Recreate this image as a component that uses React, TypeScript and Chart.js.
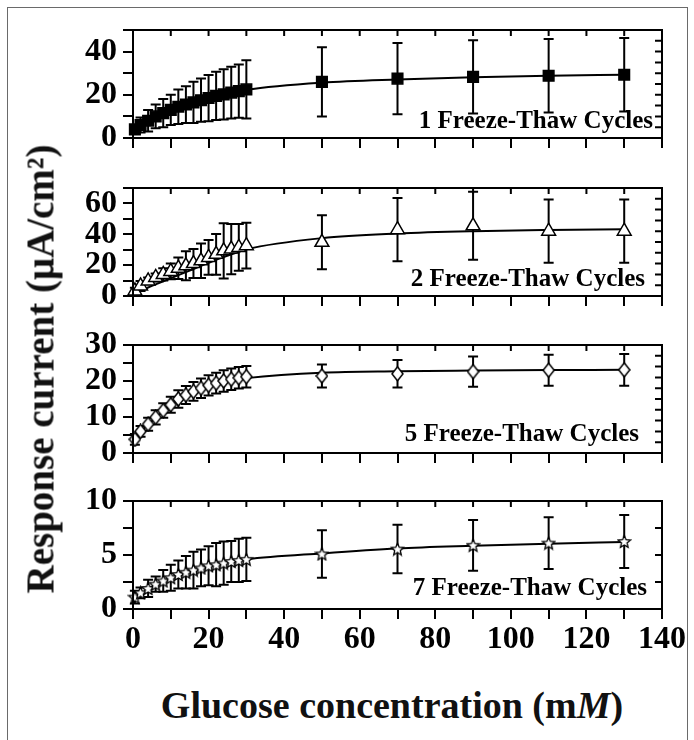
import React, { useEffect, useRef } from "react";
import { Chart, registerables } from "chart.js";

Chart.register(...registerables);

// ---------------- data ----------------
const concentration = [0.5, 2, 4, 6, 8, 10, 12, 14, 16, 18, 20, 22, 24, 26, 28, 30, 50, 70, 90, 110, 130];

const cycle1Mean = [4, 6, 8, 10, 11.5, 13, 14.5, 15.5, 16.5, 17.5, 18.5, 19.5, 20.2, 21, 21.7, 22.5, 26, 27.5, 28.3, 28.8, 29.3];
const cycle1Err = [2, 3.5, 5, 5.5, 6.5, 7, 8, 8.5, 9.5, 10, 10.7, 11.2, 11.6, 12, 12.3, 13.5, 16, 16.5, 17, 17, 17];
const cycle1Fit = [4, 6, 8, 10, 11.5, 13, 14.4, 15.5, 16.5, 17.5, 18.4, 19.3, 20.1, 20.9, 21.6, 22.3, 25.6, 27.1, 28.1, 28.8, 29.3];

const cycle2Mean = [3.3, 6.5, 9.8, 12, 14, 15.9, 18, 19.6, 21, 22.8, 25, 27, 29.3, 30.4, 31.5, 32.6, 34.8, 43, 45.5, 42, 42];
const cycle2Err = [2, 3.3, 2.2, 2.6, 4, 5.1, 7, 9.4, 9.4, 11.2, 11.3, 13.2, 17.9, 16.3, 15.2, 14.8, 17.5, 20.5, 22, 20.5, 20.5];
const cycle2Fit = [1.5, 3, 5.5, 7.5, 9.5, 11.5, 13.5, 15.5, 17.5, 19.5, 21.5, 23.4, 25.3, 27, 28.7, 30.3, 37.5, 40.5, 42, 42.8, 43.3];

const cycle5Mean = [3.8, 6, 8, 9.9, 11.8, 13.4, 15, 16.1, 17.1, 18, 18.8, 19.4, 20, 20.5, 20.9, 21.2, 21.4, 22, 22.6, 23, 23.1];
const cycle5Err = [1.5, 1.5, 1.8, 2, 2, 2.2, 2.4, 2.5, 2.6, 2.7, 2.8, 2.9, 3, 3, 3, 3, 3.2, 3.8, 4.2, 4.3, 4.4];
const cycle5Fit = [3.5, 5.8, 7.9, 9.8, 11.6, 13.2, 14.6, 15.8, 16.8, 17.7, 18.5, 19.1, 19.6, 20.1, 20.5, 20.8, 22.3, 22.7, 22.9, 23.05, 23.1];

const cycle7Mean = [1.1, 1.5, 1.9, 2.3, 2.6, 2.9, 3.2, 3.4, 3.6, 3.8, 4.0, 4.1, 4.25, 4.4, 4.5, 4.6, 5.1, 5.55, 5.9, 6.1, 6.25];
const cycle7Err = [0.6, 0.5, 0.8, 0.7, 1.0, 1.2, 1.3, 1.5, 1.7, 1.7, 1.8, 2.0, 2.0, 1.9, 2.0, 2.0, 2.2, 2.25, 2.35, 2.4, 2.45];
const cycle7Fit = [1.0, 1.4, 1.85, 2.25, 2.6, 2.9, 3.15, 3.4, 3.6, 3.8, 3.95, 4.1, 4.25, 4.38, 4.5, 4.6, 5.15, 5.6, 5.85, 6.05, 6.2];

const panelLabels = ["1 Freeze-Thaw Cycles", "2 Freeze-Thaw Cycles", "5 Freeze-Thaw Cycles", "7 Freeze-Thaw Cycles"];

const xTickLabels = [0, 20, 40, 60, 80, 100, 120, 140];
const y1TickLabels = [0, 20, 40];
const y2TickLabels = [0, 20, 40, 60];
const y5TickLabels = [0, 10, 20, 30];
const y7TickLabels = [0, 5, 10];

const xTitle = "Glucose concentration (m";
const xTitleItalic = "M";
const yTitle = "Response current (μA/cm²)";

// ---------------- layout / style ----------------
const W = 694;
const PLOT_LEFT = 133;
const PLOT_RIGHT = 662;
const PAD_TOP = 22;
const FONT = '"Liberation Serif", "Times New Roman", serif';

type MarkerKind = "square" | "triangle" | "diamond" | "star";

interface PanelCfg {
  mean: number[];
  err: number[];
  fit: number[];
  label: string;
  yMax: number;
  yStep: number;
  yLabels: number[];
  rightStep: number;
  top: number;
  bottom: number;
  labelRight: number;
  labelBaseline: number;
  marker: MarkerKind;
  isBottom: boolean;
}

const panels: PanelCfg[] = [
  { mean: cycle1Mean, err: cycle1Err, fit: cycle1Fit, label: panelLabels[0], yMax: 50, yStep: 10, yLabels: y1TickLabels, rightStep: 5, top: 30, bottom: 138, labelRight: 653, labelBaseline: 128, marker: "square", isBottom: false },
  { mean: cycle2Mean, err: cycle2Err, fit: cycle2Fit, label: panelLabels[1], yMax: 70, yStep: 10, yLabels: y2TickLabels, rightStep: 7, top: 188, bottom: 296, labelRight: 645, labelBaseline: 286, marker: "triangle", isBottom: false },
  { mean: cycle5Mean, err: cycle5Err, fit: cycle5Fit, label: panelLabels[2], yMax: 30, yStep: 5, yLabels: y5TickLabels, rightStep: 3, top: 345, bottom: 453, labelRight: 639, labelBaseline: 441, marker: "diamond", isBottom: false },
  { mean: cycle7Mean, err: cycle7Err, fit: cycle7Fit, label: panelLabels[3], yMax: 10, yStep: 2.5, yLabels: y7TickLabels, rightStep: 2.5, top: 501, bottom: 609, labelRight: 647, labelBaseline: 595, marker: "star", isBottom: true },
];

function makeDiamond(): HTMLCanvasElement {
  const w = 13, h = 16;
  const c = document.createElement("canvas");
  c.width = w; c.height = h;
  const ctx = c.getContext("2d")!;
  ctx.beginPath();
  ctx.moveTo(w / 2, 1);
  ctx.lineTo(w - 1, h / 2);
  ctx.lineTo(w / 2, h - 1);
  ctx.lineTo(1, h / 2);
  ctx.closePath();
  ctx.fillStyle = "#fff";
  ctx.fill();
  ctx.lineWidth = 1.5;
  ctx.strokeStyle = "#000";
  ctx.stroke();
  return c;
}

function makeStar(): HTMLCanvasElement {
  const s = 15;
  const c = document.createElement("canvas");
  c.width = s; c.height = s;
  const ctx = c.getContext("2d")!;
  const cx = s / 2, cy = s / 2 + 0.5, R = s / 2 - 1, r = R * 0.45;
  ctx.beginPath();
  for (let i = 0; i < 10; i++) {
    const a = -Math.PI / 2 + (i * Math.PI) / 5;
    const rad = i % 2 ? r : R;
    ctx.lineTo(cx + rad * Math.cos(a), cy + rad * Math.sin(a));
  }
  ctx.closePath();
  ctx.fillStyle = "#fff";
  ctx.fill();
  ctx.lineWidth = 1.3;
  ctx.strokeStyle = "#000";
  ctx.stroke();
  return c;
}

function makeDecor(cfg: PanelCfg) {
  return {
    id: "panelDecor",
    beforeDatasetsDraw(chart: any) {
      const { ctx, scales } = chart;
      const x = scales.x, y = scales.y;
      ctx.save();
      ctx.strokeStyle = "#000";
      ctx.lineWidth = 2;
      const cap = 5;
      cfg.mean.forEach((m, i) => {
        const px = x.getPixelForValue(concentration[i]);
        const t = y.getPixelForValue(m + cfg.err[i]);
        const b = y.getPixelForValue(Math.max(m - cfg.err[i], 0));
        ctx.beginPath();
        ctx.moveTo(px, t); ctx.lineTo(px, b);
        ctx.moveTo(px - cap, t); ctx.lineTo(px + cap, t);
        ctx.moveTo(px - cap, b); ctx.lineTo(px + cap, b);
        ctx.stroke();
      });
      ctx.restore();
    },
    afterDraw(chart: any) {
      const { ctx, chartArea, scales } = chart;
      const x = scales.x, y = scales.y;
      const { left, right, top, bottom } = chartArea;
      ctx.save();
      ctx.strokeStyle = "#000";
      ctx.lineWidth = 2;
      ctx.strokeRect(left, top, right - left, bottom - top);
      ctx.beginPath();
      x.ticks.forEach((t: any) => {
        const px = x.getPixelForValue(t.value);
        ctx.moveTo(px, top); ctx.lineTo(px, top + 6);
      });
      for (let v = 0; v <= cfg.yMax + 1e-9; v += cfg.rightStep) {
        const py = y.getPixelForValue(v);
        ctx.moveTo(right, py); ctx.lineTo(right - 7, py);
      }
      ctx.stroke();
      ctx.fillStyle = "#000";
      ctx.font = `bold 25px ${FONT}`;
      ctx.textAlign = "right";
      ctx.textBaseline = "alphabetic";
      ctx.fillText(cfg.label, cfg.labelRight, cfg.labelBaseline - cfg.top + PAD_TOP);
      ctx.restore();
    },
  };
}

function Panel({ cfg }: { cfg: PanelCfg }) {
  const ref = useRef<HTMLCanvasElement>(null);
  const xAxisH = cfg.isBottom ? 60 : 12;
  const H = PAD_TOP + (cfg.bottom - cfg.top) + xAxisH + 2;

  useEffect(() => {
    const canvas = ref.current!;
    let pointStyle: any = "rect";
    let radius = 7.5;
    let bg = "#000";
    if (cfg.marker === "triangle") { pointStyle = "triangle"; radius = 8; bg = "#fff"; }
    if (cfg.marker === "diamond") { pointStyle = makeDiamond(); radius = 7; bg = "#fff"; }
    if (cfg.marker === "star") { pointStyle = makeStar(); radius = 7; bg = "#fff"; }

    const tickFont = { family: FONT, size: 32, weight: "bold" as const };

    const chart = new Chart(canvas, {
      type: "line",
      data: {
        datasets: [
          {
            data: concentration.map((c, i) => ({ x: c, y: cfg.mean[i] })),
            showLine: false,
            pointStyle,
            pointRadius: radius,
            pointBackgroundColor: bg,
            pointBorderColor: "#000",
            pointBorderWidth: 1.5,
            clip: false as any,
          },
          {
            data: concentration.map((c, i) => ({ x: c, y: cfg.fit[i] })),
            borderColor: "#000",
            borderWidth: 2,
            pointRadius: 0,
            cubicInterpolationMode: "monotone",
            fill: false,
            clip: false as any,
          },
        ],
      },
      options: {
        animation: false,
        responsive: false,
        devicePixelRatio: 1,
        events: [],
        layout: { padding: { top: PAD_TOP, left: 0, right: W - PLOT_RIGHT, bottom: 2 } },
        plugins: { legend: { display: false }, tooltip: { enabled: false } },
        scales: {
          x: {
            type: "linear",
            min: 0,
            max: 140,
            grid: { display: true, drawOnChartArea: false, drawTicks: true, tickLength: 10, tickWidth: 2, tickColor: "#000", color: "#000", lineWidth: 2 },
            border: { display: true, color: "#000", width: 2 },
            ticks: {
              stepSize: 10,
              autoSkip: false,
              maxRotation: 0,
              display: cfg.isBottom,
              color: "#000",
              font: tickFont,
              padding: 2,
              callback: (v: any) => (xTickLabels.includes(Number(v)) ? String(v) : ""),
            },
            afterFit: (s: any) => {
              s.height = xAxisH;
              s.paddingLeft = 0;
              s.paddingRight = 0;
            },
          },
          y: {
            type: "linear",
            min: 0,
            max: cfg.yMax,
            grid: { display: true, drawOnChartArea: false, drawTicks: true, tickLength: 10, tickWidth: 2, tickColor: "#000", color: "#000", lineWidth: 2 },
            border: { display: true, color: "#000", width: 2 },
            ticks: {
              stepSize: cfg.yStep,
              autoSkip: false,
              color: "#000",
              font: tickFont,
              padding: 6,
              callback: (v: any) => (cfg.yLabels.includes(Number(v)) ? String(v) : ""),
            },
            afterFit: (s: any) => {
              s.width = PLOT_LEFT;
              s.paddingTop = 0;
              s.paddingBottom = 0;
            },
          },
        },
      },
      plugins: [makeDecor(cfg)],
    });
    return () => chart.destroy();
  }, []);

  return (
    <canvas
      ref={ref}
      width={W}
      height={H}
      style={{ position: "absolute", left: 0, top: cfg.top - PAD_TOP, width: W, height: H }}
    />
  );
}

export default function App() {
  return (
    <div style={{ position: "fixed", left: 0, top: 0, width: W, height: 740, background: "#fff", overflow: "hidden" }}>
      <div
        style={{
          position: "absolute",
          left: 7,
          top: 7,
          width: 681,
          height: 760,
          border: "1px solid #6a6a6a",
          boxSizing: "border-box",
        }}
      />
      {panels.map((p, i) => (
        <Panel key={i} cfg={p} />
      ))}
      <div
        style={{
          position: "absolute",
          left: 40,
          top: 369,
          transform: "translate(-50%, -50%) rotate(-90deg)",
          whiteSpace: "nowrap",
          font: `bold 39px ${FONT}`,
          lineHeight: "39px",
          color: "#111",
        }}
      >
        {yTitle}
      </div>
      <div
        style={{
          position: "absolute",
          left: 92,
          width: 600,
          top: 686,
          textAlign: "center",
          whiteSpace: "nowrap",
          font: `bold 38px ${FONT}`,
          lineHeight: "38px",
          color: "#111",
        }}
      >
        {xTitle}
        <i>{xTitleItalic}</i>)
      </div>
    </div>
  );
}
